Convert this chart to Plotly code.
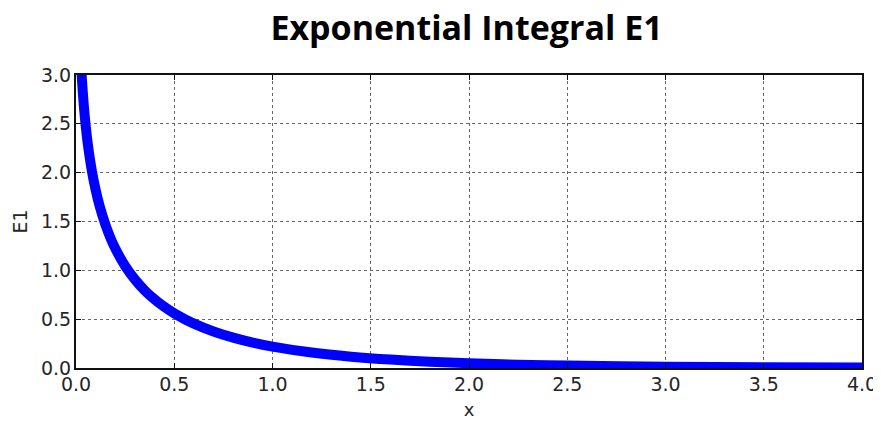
import plotly.graph_objects as go

# Values
x_vals = [0.02, 0.03, 0.04, 0.05, 0.06, 0.08, 0.10, 0.12, 0.15, 0.18, 0.20, 0.25,
          0.30, 0.35, 0.40, 0.45, 0.50, 0.60, 0.70, 0.80, 0.90, 1.00, 1.20, 1.40,
          1.60, 1.80, 2.00, 2.25, 2.50, 3.00, 3.50, 4.00]
e1_vals = [3.355, 2.959, 2.681, 2.468, 2.295, 2.027, 1.823, 1.660, 1.465, 1.309,
           1.223, 1.044, 0.906, 0.794, 0.702, 0.625, 0.560, 0.454, 0.374, 0.311,
           0.260, 0.219, 0.158, 0.116, 0.086, 0.065, 0.049, 0.034, 0.025, 0.013,
           0.007, 0.004]

x_ticks = [0.0, 0.5, 1.0, 1.5, 2.0, 2.5, 3.0, 3.5, 4.0]
y_ticks = [0.0, 0.5, 1.0, 1.5, 2.0, 2.5, 3.0]

fig = go.Figure()
fig.add_trace(go.Scatter(
    x=x_vals, y=e1_vals, mode="lines",
    line=dict(color="#0000ff", width=10, shape="spline", smoothing=0.8),
    showlegend=False, hoverinfo="skip",
))

font_main = dict(family="DejaVu Sans", size=19, color="#262626")

axis_common = dict(
    showline=True, mirror="ticks", linecolor="#111111", linewidth=2,
    ticks="inside", ticklen=5, tickwidth=1, tickcolor="#111111",
    showgrid=True, gridcolor="#666666", griddash="dot", gridwidth=1,
    zeroline=False, automargin=False,
    tickfont=font_main,
)

fig.update_xaxes(range=[0, 4], tickvals=x_ticks,
                 ticktext=[f"{v:.1f}" for v in x_ticks],
                 title=dict(text="x", font=dict(family="DejaVu Sans", size=18, color="#262626"),
                            standoff=10),
                 ticklabelstandoff=-2,
                 **axis_common)
fig.update_yaxes(range=[0, 3], tickvals=y_ticks,
                 ticktext=[f"{v:.1f}" for v in y_ticks],
                 title=dict(text="E1", font=dict(family="DejaVu Sans", size=19, color="#262626"),
                            standoff=8),
                 ticklabelstandoff=-1,
                 **axis_common)

fig.update_layout(
    width=873, height=418,
    margin=dict(l=68, r=19, t=67, b=58),
    paper_bgcolor="white", plot_bgcolor="white",
    title=dict(text="<b>Exponential Integral E1</b>", x=(466.5 - 8) / 873, xanchor="center",
               y=0.952, yanchor="middle",
               font=dict(family="Open Sans", size=34, color="black")),
)

fig.write_html("out.html")
